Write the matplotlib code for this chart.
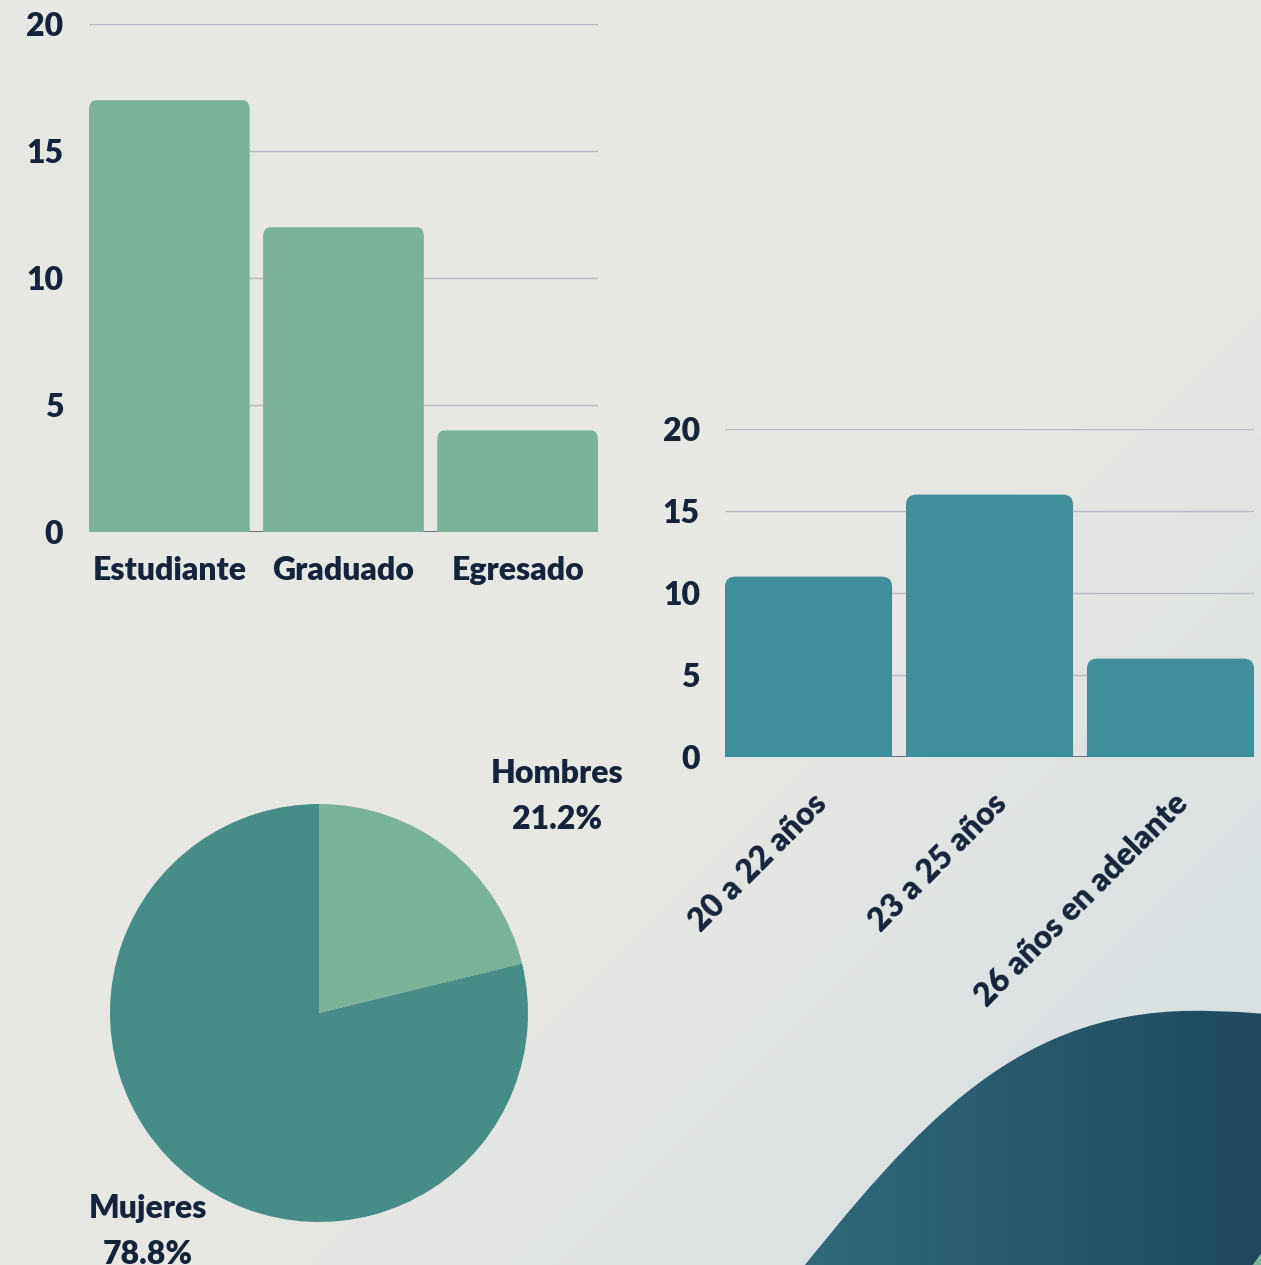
import numpy as np
import matplotlib
matplotlib.use("Agg")
import matplotlib.pyplot as plt
from matplotlib.patches import FancyBboxPatch, PathPatch
from matplotlib.path import Path
from matplotlib.transforms import ScaledTranslation
from matplotlib.colors import to_rgb

# --- data ---
estado = ["Estudiante", "Graduado", "Egresado"]
estado_vals = [17, 12, 4]

edades = ["20 a 22 años", "23 a 25 años", "26 años en adelante"]
edades_vals = [11, 16, 6]

sexo = ["Hombres", "Mujeres"]
sexo_pct = [21.2, 78.8]

y_ticks = [0, 5, 10, 15, 20]

# --- style ---
W, H = 1261, 1265
DPI = 100
TXT = "#15243a"
GREEN = "#7ab39a"
TEAL = "#3e8f9a"
PIE_DARK = "#478d87"
GRID = "#b9bcc3"
BASE = "#5a6078"
FONT = "Lato"
FS = 23
WT = "heavy"

plt.rcParams["font.family"] = [FONT, "DejaVu Sans"]

fig = plt.figure(figsize=(W / DPI, H / DPI), dpi=DPI)

# background gradient + wave
bg = fig.add_axes([0, 0, 1, 1], zorder=-10)
bg.set_xlim(0, W)
bg.set_ylim(H, 0)
bg.axis("off")
yy, xx = np.mgrid[0:H:4, 0:W:4]
t = np.clip((xx + yy - 1450) / 1100.0, 0, 1)[..., None]
c0 = np.array(to_rgb("#e7e7e3"))
c1 = np.array(to_rgb("#d3dee2"))
bg.imshow(c0 * (1 - t) + c1 * t, extent=(0, W, H, 0), aspect="auto", zorder=0)

verts = [(785, 1290), (920, 1120), (1020, 1005), (1210, 1011),
         (1240, 1012), (1265, 1014), (1265, 1290), (785, 1290)]
codes = [Path.MOVETO, Path.CURVE4, Path.CURVE4, Path.CURVE4,
         Path.LINETO, Path.LINETO, Path.LINETO, Path.CLOSEPOLY]
wave = PathPatch(Path(verts, codes), facecolor="none", edgecolor="none")
bg.add_patch(wave)
gx = np.linspace(0, 1, 200)[None, :, None]
w0 = np.array(to_rgb("#2f6c79"))
w1 = np.array(to_rgb("#1f4a5d"))
wimg = bg.imshow(np.repeat(w0 * (1 - gx) + w1 * gx, 2, axis=0),
                 extent=(780, W, H, 1000), aspect="auto", zorder=1)
wimg.set_clip_path(wave)
bg.add_patch(plt.Polygon([(1252, 1266), (1262, 1252), (1262, 1266)],
                         closed=True, facecolor=GREEN, edgecolor="none", zorder=2))


def rounded_bars(ax, cats, vals, color, left, width, bottom, height, r_px=10):
    bw = 0.923
    x = np.arange(len(cats))
    bars = ax.bar(x, vals, width=bw, color=color, zorder=2)
    ax.set_xlim(-bw / 2, len(cats) - 1 + bw / 2)
    ax.set_ylim(0, 20)
    px_x = width * W / (len(cats) - 1 + bw)
    px_y = height * H / 20.0
    rx = r_px / px_x
    ry = r_px / px_y
    for b in bars:
        b.set_visible(False)
        p = FancyBboxPatch((b.get_x(), -1), b.get_width(), b.get_height() + 1,
                           boxstyle=f"round,pad=0,rounding_size={rx}",
                           mutation_aspect=ry / rx,
                           facecolor=color, edgecolor="none", zorder=2)
        ax.add_patch(p)
    ax.set_facecolor("none")
    for s in ax.spines.values():
        s.set_visible(False)
    ax.set_yticks(y_ticks)
    ax.set_yticklabels([str(v) for v in y_ticks], fontsize=FS, fontweight=WT, color=TXT)
    ax.yaxis.grid(True, color=GRID, linewidth=1, zorder=0)
    ax.set_axisbelow(True)
    ax.axhline(0, color=BASE, linewidth=1.2, zorder=1)
    ax.tick_params(axis="both", length=0)
    ax.set_xticks(x)
    return x


# chart 1: estado
a1 = [89 / W, 1 - 532 / H, 509 / W, 508 / H]
ax1 = fig.add_axes(a1)
rounded_bars(ax1, estado, estado_vals, GREEN, *a1)
ax1.set_xticklabels(estado, fontsize=FS, fontweight=WT, color=TXT)
ax1.tick_params(axis="y", pad=18.5)
ax1.tick_params(axis="x", pad=17)

# chart 2: edades
a2 = [725 / W, 1 - 757 / H, 529 / W, 328 / H]
ax2 = fig.add_axes(a2)
rounded_bars(ax2, edades, edades_vals, TEAL, *a2)
ax2.set_xticklabels(edades, rotation=45, ha="right", va="center",
                    rotation_mode="anchor", fontsize=FS, fontweight=WT, color=TXT)
ax2.tick_params(axis="y", pad=18)
ax2.tick_params(axis="x", pad=30)
for lab in ax2.get_xticklabels():
    lab.set_transform(lab.get_transform() + ScaledTranslation(0.13, 0, fig.dpi_scale_trans))

# chart 3: sexo pie
ax3 = fig.add_axes([110 / W, 43 / H, 418 / W, 418 / H])
ax3.pie(sexo_pct, colors=[GREEN, PIE_DARK], startangle=90, counterclock=False,
        radius=1.0, wedgeprops=dict(edgecolor="none"))
ax3.set_xlim(-1, 1)
ax3.set_ylim(-1, 1)
ax3.set_aspect("equal")
label_pos = [(1.139, 1.035), (-0.818, -1.045)]
for name, pct, (lx, ly) in zip(sexo, sexo_pct, label_pos):
    ax3.text(lx, ly, f"{name}\n{pct:.1f}%", ha="center", va="center",
             fontsize=FS, color=TXT, fontweight=WT, linespacing=1.7,
             clip_on=False)

fig.savefig("out.png", dpi=DPI)
